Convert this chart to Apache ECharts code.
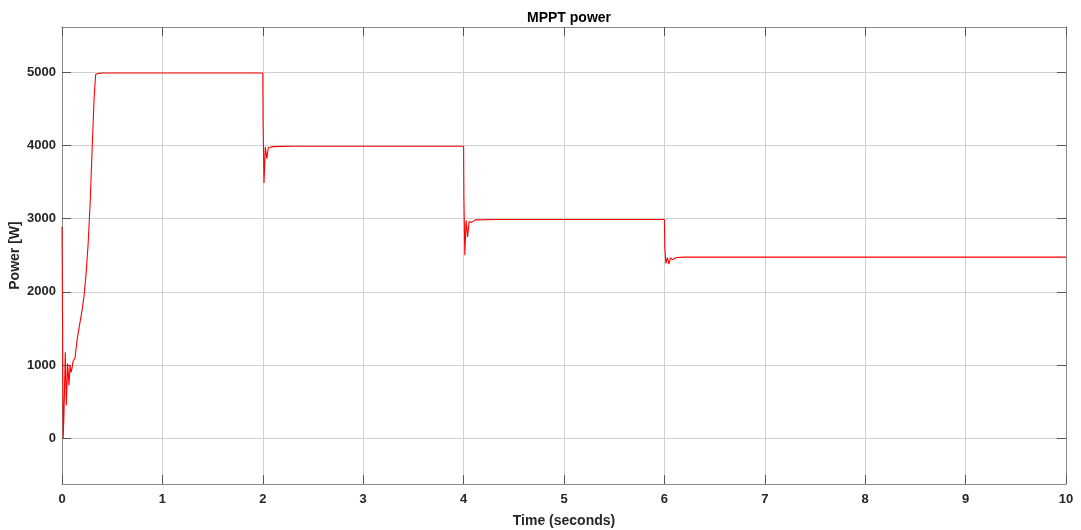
<!DOCTYPE html>
<html>
<head>
    <meta charset="utf-8">
    <title>MPPT power</title>
    <script src="https://cdn.jsdelivr.net/npm/echarts@6/dist/echarts.min.js"></script>
    <style>
        body { margin: 0; background: #fff; }
        #chart { width: 1081px; height: 530px; }
    </style>
</head>
<body>
<div id="chart"></div>
<script type="text/javascript">
    // values
    var time = [0, 0.002, 0.012, 0.02, 0.033, 0.043, 0.056, 0.07, 0.08, 0.09, 0.1, 0.11, 0.13,
        0.15, 0.175, 0.2, 0.22, 0.24, 0.26, 0.28, 0.3, 0.32, 0.335, 0.36, 0.4,
        2.0, 2.003, 2.012, 2.025, 2.04, 2.055, 2.07, 2.1, 2.3,
        4.0, 4.003, 4.012, 4.025, 4.04, 4.055, 4.08, 4.12, 4.3,
        6.0, 6.004, 6.015, 6.03, 6.045, 6.06, 6.08, 6.12, 6.2, 10];
    var power = [2890, 2890, 0, 350, 1175, 450, 1020, 720, 1000, 900, 960, 1050, 1100,
        1340, 1550, 1750, 1950, 2250, 2650, 3200, 3950, 4650, 4970, 4985, 4992,
        4992, 4300, 3490, 3980, 3820, 3970, 3950, 3985, 3990,
        3990, 3300, 2500, 2975, 2750, 2960, 2950, 2985, 2990,
        2990, 2600, 2390, 2470, 2380, 2465, 2440, 2470, 2475, 2475];
    var yTicks = [0, 1000, 2000, 3000, 4000, 5000];

    var points = time.map(function (t, i) { return [t, power[i]]; });

    var chart = echarts.init(document.getElementById('chart'));

    var font = 'Liberation Sans, Arial, Helvetica, sans-serif';
    var frame = { show: true, onZero: false, lineStyle: { color: '#8a8a8a', width: 1 } };
    var tick = { show: true, inside: true, length: 9, lineStyle: { color: '#555' } };
    var grid = { show: true, lineStyle: { color: '#d0d0d0', width: 1 } };
    var label = {
        color: '#262626', fontFamily: font, fontWeight: 'bold', fontSize: 13,
        formatter: function (v) { return String(v); }
    };

    chart.setOption({
        animation: false,
        backgroundColor: '#fff',
        title: {
            text: 'MPPT power',
            left: 564,
            top: 6,
            textAlign: 'center',
            textStyle: { color: '#000', fontFamily: font, fontWeight: 'bold', fontSize: 14 }
        },
        grid: { left: 62, right: 15, top: 27, bottom: 46, containLabel: false, outerBoundsMode: 'none' },
        xAxis: [{
            type: 'value',
            min: 0,
            max: 10,
            interval: 1,
            name: 'Time (seconds)',
            nameLocation: 'middle',
            nameGap: 30,
            nameMoveOverlap: false,
            nameTextStyle: { color: '#262626', fontFamily: font, fontWeight: 'bold', fontSize: 14 },
            axisLine: frame,
            axisTick: tick,
            axisLabel: Object.assign({ margin: 9 }, label),
            splitLine: grid
        }, {
            type: 'value',
            position: 'top',
            min: 0,
            max: 10,
            interval: 1,
            axisLine: frame,
            axisTick: tick,
            axisLabel: { show: false },
            splitLine: { show: false }
        }],
        yAxis: [{
            type: 'value',
            min: -625,
            max: 5620,
            name: 'Power [W]',
            nameLocation: 'middle',
            nameGap: 40,
            nameMoveOverlap: false,
            nameTextStyle: { color: '#262626', fontFamily: font, fontWeight: 'bold', fontSize: 14 },
            axisLine: frame,
            axisTick: Object.assign({ customValues: yTicks }, tick),
            axisLabel: Object.assign({ customValues: yTicks, margin: 6 }, label),
            splitLine: grid
        }, {
            type: 'value',
            position: 'right',
            min: -625,
            max: 5620,
            axisLine: frame,
            axisTick: Object.assign({ customValues: yTicks }, tick),
            axisLabel: { show: false },
            splitLine: { show: false }
        }],
        series: [{
            type: 'line',
            data: points,
            showSymbol: false,
            lineStyle: { color: '#ff0000', width: 1.1 },
            z: 5
        }]
    });
</script>
</body>
</html>
